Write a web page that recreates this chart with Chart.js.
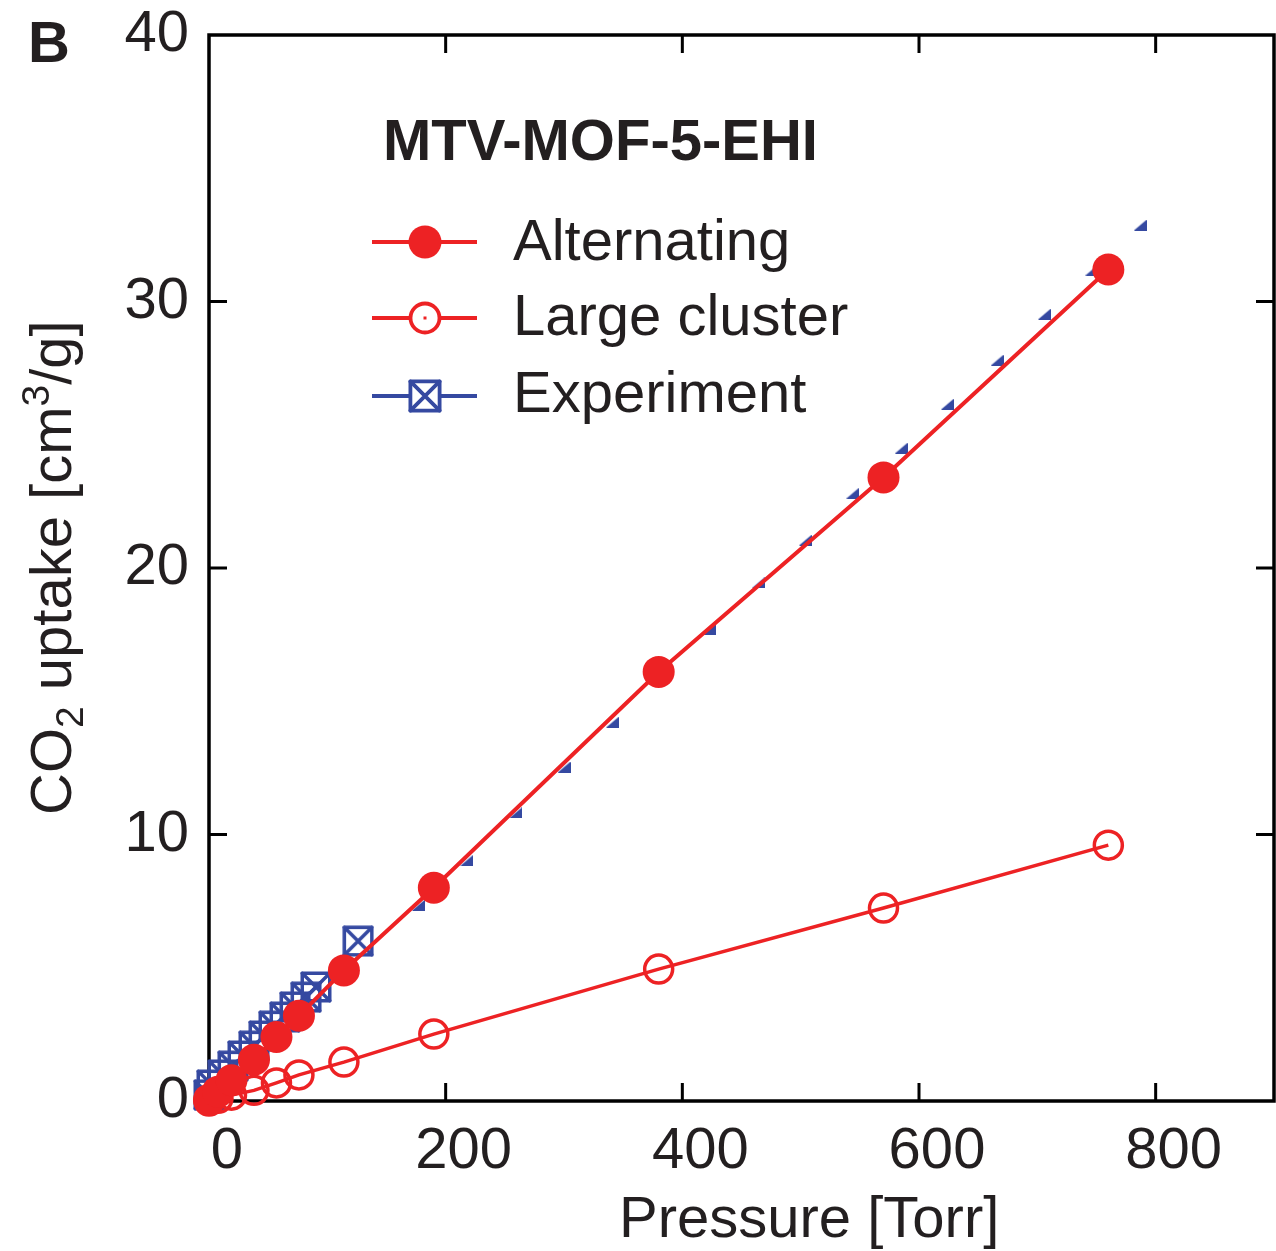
<!DOCTYPE html>
<html><head><meta charset="utf-8">
<script src="https://cdn.jsdelivr.net/npm/chart.js@4.4.1/dist/chart.umd.min.js"></script>
<style>html,body{margin:0;padding:0;background:#fff;}canvas{display:block;}</style>
</head><body>
<canvas id="c" width="1276" height="1251"></canvas>
<script>
// ---- data ----
const modelPressure      = [0, 7.6, 19, 38, 57, 76, 114, 190, 380, 570, 760];
const alternatingUptake  = [0.05, 0.35, 0.78, 1.55, 2.4, 3.2, 4.9, 8.0, 16.1, 23.4, 31.2];
const largeClusterUptake = [0.0, 0.1, 0.22, 0.40, 0.68, 0.98, 1.46, 2.51, 4.95, 7.24, 9.6];
const experimentPressure = [0, 2.5, 11.8, 20.3, 28.7, 38.0, 46.5, 54.9, 64.2, 72.7, 82.0, 90.4, 126,
  177, 218, 259, 300, 341, 383, 423, 464, 504, 544, 585, 624, 666, 706, 746, 787];
const experimentUptake   = [0.23, 0.60, 0.98, 1.31, 1.69, 2.06, 2.44, 2.81, 3.15, 3.53, 3.90, 4.28, 6.0,
  7.35, 9.04, 10.81, 12.53, 14.22, 15.95, 17.71, 19.44, 21.05, 22.81, 24.50, 26.15, 27.80, 29.53, 31.18, 32.87];
const xTickValues = [0, 200, 400, 600, 800];
const yTickValues = [0, 10, 20, 30, 40];
const seriesLabels = ['Alternating', 'Large cluster', 'Experiment'];
const legendTitle = 'MTV-MOF-5-EHI';

// ---- styles ----
const RED = '#ED2224';
const BLUE = '#3549A1';
const INK = '#231F20';
const FONT = "'Liberation Sans', Arial, Helvetica, sans-serif";

function makeBox(size, lw) {
  const c = document.createElement('canvas');
  c.width = size; c.height = size;
  const g = c.getContext('2d');
  const o = lw / 2 + 0.5, s = size - 2 * o;
  g.strokeStyle = BLUE; g.lineWidth = lw; g.lineJoin = 'round'; g.lineCap = 'round';
  g.strokeRect(o, o, s, s);
  g.beginPath(); g.moveTo(o, o); g.lineTo(o + s, o + s); g.moveTo(o + s, o); g.lineTo(o, o + s); g.stroke();
  return c;
}
function makeTri() {
  const c = document.createElement('canvas');
  c.width = 13; c.height = 11;
  const g = c.getContext('2d');
  g.fillStyle = BLUE;
  g.beginPath(); g.moveTo(0, 11); g.lineTo(13, 0); g.lineTo(13, 11); g.closePath(); g.fill();
  return c;
}
const boxImg = makeBox(32, 3.5);
const triImg = makeTri();

function zeroPad(s) { s.paddingTop = 0; s.paddingBottom = 0; s.paddingLeft = 0; s.paddingRight = 0; }

const framePlugin = {
  id: 'frame',
  beforeDatasetsDraw(chart) {
    const {ctx, chartArea: a, scales: {x, y}} = chart;
    ctx.save();
    ctx.strokeStyle = '#000';
    ctx.lineWidth = 3.5;
    ctx.strokeRect(a.left, a.top, a.right - a.left, a.bottom - a.top);
    ctx.lineWidth = 3;
    const TL = 18;
    ctx.beginPath();
    x.ticks.forEach(t => {
      if (t.value <= x.min || t.value >= x.max) return;
      const p = x.getPixelForValue(t.value);
      ctx.moveTo(p, a.bottom); ctx.lineTo(p, a.bottom - TL);
      ctx.moveTo(p, a.top); ctx.lineTo(p, a.top + TL);
    });
    y.ticks.forEach(t => {
      if (t.value <= y.min || t.value >= y.max) return;
      const p = y.getPixelForValue(t.value);
      ctx.moveTo(a.left, p); ctx.lineTo(a.left + TL, p);
      ctx.moveTo(a.right, p); ctx.lineTo(a.right - TL, p);
    });
    ctx.stroke();
    ctx.restore();
  },
  afterDraw(chart) {
    const ctx = chart.ctx;
    ctx.save();
    ctx.fillStyle = INK;
    ctx.textBaseline = 'alphabetic';
    ctx.textAlign = 'left';
    // panel letter
    ctx.font = 'bold 58px ' + FONT;
    ctx.fillText('B', 28, 62);
    // x title
    ctx.font = '58px ' + FONT;
    ctx.fillText('Pressure [Torr]', 619, 1237);
    // y title (rotated)
    ctx.save();
    ctx.translate(71, 815);
    ctx.rotate(-Math.PI / 2);
    let xx = 0;
    const part = (txt, size, dy) => {
      ctx.font = size + 'px ' + FONT;
      ctx.fillText(txt, xx, dy);
      xx += ctx.measureText(txt).width;
    };
    part('CO', 58, 0); part('2', 39, 12); part(' uptake [cm', 58, 0); part('3', 39, -22); part('/g]', 58, 0);
    ctx.restore();
    // legend
    ctx.font = 'bold 58px ' + FONT;
    ctx.fillText(legendTitle, 383, 160);
    ctx.font = '58px ' + FONT;
    const rows = [242, 318, 396];
    const bases = [260, 335, 412];
    const mx = 425, x0 = 372, x1 = 477;
    rows.forEach((ry, i) => {
      ctx.fillStyle = INK;
      ctx.fillText(seriesLabels[i], 513, bases[i]);
      ctx.lineWidth = 3.8;
      ctx.strokeStyle = i < 2 ? RED : BLUE;
      ctx.fillStyle = i < 2 ? RED : BLUE;
      const half = 16;
      ctx.beginPath();
      ctx.moveTo(x0, ry); ctx.lineTo(mx - half, ry);
      ctx.moveTo(mx + half, ry); ctx.lineTo(x1, ry);
      ctx.stroke();
      if (i === 0) {
        ctx.beginPath(); ctx.arc(mx, ry, 16.5, 0, Math.PI * 2); ctx.fill();
      } else if (i === 1) {
        ctx.beginPath(); ctx.arc(mx, ry, 14.5, 0, Math.PI * 2); ctx.stroke();
        ctx.fillRect(mx - 1.5, ry - 1.5, 3, 3);
      } else {
        ctx.drawImage(makeBox(34, 3.8), mx - 17, ry - 17);
      }
    });
    ctx.restore();
  }
};

const toPts = (xs, ys) => xs.map((v, i) => ({x: v, y: ys[i]}));

new Chart(document.getElementById('c'), {
  type: 'scatter',
  data: {
    datasets: [
      {
        label: seriesLabels[0],
        data: toPts(modelPressure, alternatingUptake),
        showLine: true, borderColor: RED, borderWidth: 4,
        pointRadius: 16, pointBackgroundColor: RED, pointBorderWidth: 0,
        clip: false
      },
      {
        label: seriesLabels[1],
        data: toPts(modelPressure, largeClusterUptake),
        showLine: true, borderColor: RED, borderWidth: 3.5,
        pointRadius: 14, pointBackgroundColor: 'rgba(0,0,0,0)', pointBorderColor: RED, pointBorderWidth: 3.5,
        clip: false
      },
      {
        label: seriesLabels[2],
        data: toPts(experimentPressure, experimentUptake),
        showLine: false, borderColor: BLUE, borderWidth: 3,
        pointStyle: ctx => (ctx.dataIndex <= 12 ? boxImg : triImg),
        pointRadius: 15, pointBackgroundColor: BLUE, pointBorderColor: BLUE,
        clip: false
      }
    ]
  },
  options: {
    responsive: false,
    devicePixelRatio: 1,
    animation: false,
    events: [],
    layout: {autoPadding: false, padding: {left: 0, top: 35, right: 2, bottom: 0}},
    elements: {line: {tension: 0}},
    plugins: {legend: {display: false}, tooltip: {enabled: false}},
    scales: {
      x: {
        type: 'linear', min: 0, max: 900,
        grid: {display: false, drawTicks: false},
        border: {display: false},
        afterBuildTicks: s => { s.ticks = xTickValues.map(v => ({value: v})); },
        afterFit: s => { s.height = 150; zeroPad(s); },
        ticks: {
          color: INK, padding: 22, labelOffset: 18, maxRotation: 0, autoSkip: false,
          font: {family: FONT, size: 58, lineHeight: 1}
        }
      },
      y: {
        type: 'linear', min: 0, max: 40,
        grid: {display: false, drawTicks: false},
        border: {display: false},
        afterBuildTicks: s => { s.ticks = yTickValues.map(v => ({value: v})); },
        afterFit: s => { s.width = 209; zeroPad(s); },
        ticks: {
          color: INK, padding: 20, autoSkip: false,
          font: {family: FONT, size: 58, lineHeight: 1}
        }
      }
    }
  },
  plugins: [framePlugin]
});
</script>
</body></html>
